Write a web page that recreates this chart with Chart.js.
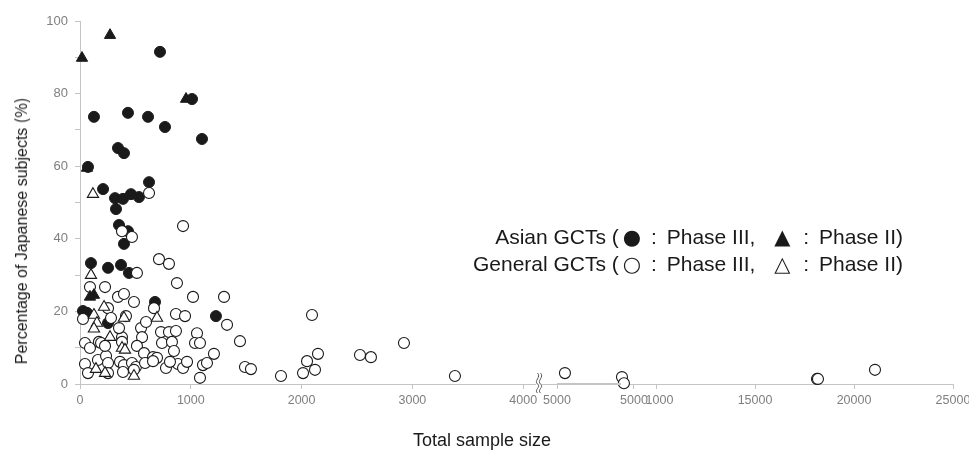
<!DOCTYPE html>
<html>
<head>
<meta charset="utf-8">
<script src="https://cdn.jsdelivr.net/npm/chart.js@4/dist/chart.umd.min.js"></script>
<style>
  body { margin: 0; background: #fff; }
  #wrap { position: relative; width: 969px; height: 457px; }
  .txt { position: absolute; font-family: "Liberation Sans", sans-serif; color: #1a1a1a; white-space: nowrap; }
  .sym { font-family: "DejaVu Sans", sans-serif; }
  .s3 { margin: 0 4px 0 4px; }
  .s2 { margin: 0 7px 0 13px; }
  .col { margin-right: 4px; }
  #ytitle { left: 20px; top: 231px; font-size: 16px; transform: translate(-50%, -50%) rotate(-90deg); }
  #ytitle .cjk { font-family: "Noto Sans CJK JP", sans-serif; }
  #xtitle { left: 482px; top: 440px; font-size: 18px; transform: translate(-50%, -50%); }
  .leg { right: 66px; font-size: 21px; line-height: 24px; }
  #leg1 { top: 225px; }
  #leg2 { top: 252px; }
</style>
</head>
<body>
<div id="wrap">
  <canvas id="chart" width="969" height="457"></canvas>
  <div class="txt" id="ytitle">Percentage of Japanese subjects <span class="cjk">(%)</span></div>
  <div class="txt" id="xtitle">Total sample size</div>
  <div class="txt leg" id="leg1">Asian GCTs (<span class="sym s3">●</span> <span class="col">:</span> Phase III, <span class="sym s2">▲</span> <span class="col">:</span> Phase II)</div>
  <div class="txt leg" id="leg2">General GCTs (<span class="sym s3">○</span> <span class="col">:</span> Phase III, <span class="sym s2">△</span> <span class="col">:</span> Phase II)</div>
</div>
<script>
// [total sample size, % Japanese subjects]
const asianPhase3 = [
  [72, 59.8], [126, 73.6], [433, 74.7], [614, 73.6], [722, 91.5], [767, 70.8],
  [1011, 78.5], [1101, 67.5], [343, 65.0], [397, 63.6], [208, 53.7], [623, 55.6],
  [316, 51.2], [388, 51.0], [460, 52.3], [532, 51.5], [325, 48.2], [352, 43.8],
  [433, 42.1], [397, 38.6], [99, 33.3], [253, 32.0], [370, 32.8], [442, 30.6],
  [677, 22.6], [27, 20.1], [63, 19.6], [253, 16.8], [1227, 18.7]
];
const asianPhase2 = [
  [18, 89.8], [271, 96.1], [957, 78.5], [63, 59.5], [90, 24.0], [126, 24.5]
];
const generalPhase3 = [
  [623, 52.6], [379, 42.1], [469, 40.5], [930, 43.5], [514, 30.6], [713, 34.4],
  [803, 33.1], [875, 27.8], [90, 26.7], [226, 26.7], [343, 24.0], [397, 24.8],
  [487, 22.6], [668, 20.9], [1020, 24.0], [1300, 24.0], [27, 17.9], [253, 20.9],
  [280, 18.2], [415, 18.7], [866, 19.3], [948, 18.7], [2094, 19.0], [1327, 16.3],
  [1444, 11.8], [45, 11.3], [90, 9.9], [171, 11.6], [190, 11.3], [379, 12.9],
  [379, 11.6], [551, 15.4], [560, 12.9], [514, 10.5], [731, 14.3], [740, 11.3],
  [803, 14.3], [830, 11.6], [848, 9.1], [1056, 14.0], [1038, 11.3], [1083, 11.3],
  [578, 8.5], [659, 7.4], [695, 7.2], [45, 5.5], [72, 3.0], [162, 6.6],
  [235, 7.7], [253, 5.8], [253, 3.0], [361, 6.1], [397, 5.2], [469, 5.8],
  [505, 4.7], [487, 3.9], [587, 5.8], [659, 6.3], [776, 4.4], [884, 5.5],
  [930, 4.4], [966, 6.1], [1083, 1.7], [1110, 5.2], [1146, 5.8], [1209, 8.3],
  [1489, 4.7], [1543, 4.1], [1814, 2.2], [2013, 3.0], [2049, 6.3], [2121, 3.9],
  [2148, 8.3], [2527, 8.0], [2626, 7.4], [2924, 11.3], [3384, 2.2],
  [352, 15.4], [596, 17.1], [866, 14.6], [226, 10.5], [812, 6.1], [388, 3.3],
  [5400, 3.0], [8280, 1.9], [8380, 0.2], [18130, 1.4], [18180, 1.4], [21060, 3.9]
];
const generalPhase2 = [
  [117, 52.3], [99, 30.0], [217, 21.2], [126, 19.0], [153, 16.8], [126, 15.2],
  [397, 18.2], [695, 18.2], [271, 12.9], [379, 9.9], [406, 9.4], [144, 4.1],
  [226, 3.0], [487, 2.2]
];

// broken x axis: 0-4000 on the left, 5000-25000 compressed on the right
const BREAK_AT = 4143;
const RIGHT_OFFSET = 3412;
const RIGHT_SCALE = 0.1787;
const toAxis = n => n <= BREAK_AT ? n : RIGHT_OFFSET + n * RIGHT_SCALE;

const leftTicks = [0, 1000, 2000, 3000, 4000, 5000];
const rightTicks = [5000, 10000, 15000, 20000, 25000];
const xTicks = leftTicks.concat(rightTicks.map(toAxis)).sort((a, b) => a - b);
const xTickLabels = ['0', '1000', '2000', '3000', '4000', '5000', '5000', '\u20071000', '15000', '20000', '25000'];

const pts = arr => arr.map(p => ({ x: toAxis(p[0]), y: p[1] }));
const INK = '#1a1a1a';
const GREY = '#c4c4c4';

const axisBreak = {
  id: 'axisBreak',
  afterDraw(chart) {
    const ctx = chart.ctx;
    const x = chart.scales.x.getPixelForValue(BREAK_AT);
    const y = chart.scales.y.getPixelForValue(0);
    ctx.save();
    // leftover axis stub from the pasted right-hand panel
    ctx.strokeStyle = GREY;
    ctx.lineWidth = 2;
    ctx.beginPath();
    ctx.moveTo(chart.scales.x.getPixelForValue(toAxis(5000)), y);
    ctx.lineTo(chart.scales.x.getPixelForValue(5000) - 13, y);
    ctx.stroke();
    ctx.fillStyle = '#fff';
    ctx.fillRect(x - 3, y - 3, 6, 6);
    ctx.strokeStyle = '#555';
    ctx.lineWidth = 1;
    [-1.5, 1.5].forEach(dx => {
      ctx.beginPath();
      ctx.moveTo(x + dx, y - 11);
      ctx.bezierCurveTo(x + dx + 4, y - 7, x + dx - 4, y - 3, x + dx, y);
      ctx.bezierCurveTo(x + dx + 4, y + 3, x + dx - 4, y + 6, x + dx, y + 9);
      ctx.stroke();
    });
    ctx.restore();
  }
};

new Chart(document.getElementById('chart'), {
  type: 'scatter',
  data: {
    datasets: [
      { label: 'Asian Phase III', data: pts(asianPhase3), pointStyle: 'circle', pointRadius: 5.5,
        backgroundColor: INK, borderColor: INK, borderWidth: 1, order: 4, clip: false },
      { label: 'General Phase III', data: pts(generalPhase3), pointStyle: 'circle', pointRadius: 5.5,
        backgroundColor: '#fff', borderColor: INK, borderWidth: 1.1, order: 3, clip: false },
      { label: 'General Phase II', data: pts(generalPhase2), pointStyle: 'triangle', pointRadius: 6.5,
        backgroundColor: '#fff', borderColor: INK, borderWidth: 1.1, order: 2, clip: false },
      { label: 'Asian Phase II', data: pts(asianPhase2), pointStyle: 'triangle', pointRadius: 6.5,
        backgroundColor: INK, borderColor: INK, borderWidth: 1, order: 1, clip: false }
    ]
  },
  options: {
    responsive: false,
    animation: false,
    events: [],
    layout: { padding: { top: 21, right: 16, left: 0, bottom: 0 } },
    plugins: { legend: { display: false }, tooltip: { enabled: false } },
    scales: {
      x: {
        type: 'linear', min: 0, max: toAxis(25000),
        afterFit: s => { s.height = 73; s.paddingLeft = 0; s.paddingRight = 0; },
        afterBuildTicks: s => { s.ticks = xTicks.map(v => ({ value: v })); },
        ticks: {
          autoSkip: false, maxRotation: 0, padding: 4, color: '#7f7f7f',
          font: { family: 'Liberation Sans', size: 12.5 },
          callback: (v, i) => xTickLabels[i]
        },
        grid: { drawOnChartArea: false, tickLength: 5, color: GREY },
        border: { color: GREY }
      },
      y: {
        min: 0, max: 100,
        afterFit: s => { s.width = 80; },
        ticks: {
          stepSize: 10, padding: 7, color: '#7f7f7f',
          font: { family: 'Liberation Sans', size: 13 },
          callback: v => v % 20 === 0 ? v : ''
        },
        grid: { drawOnChartArea: false, tickLength: 5, color: GREY },
        border: { color: GREY }
      }
    }
  },
  plugins: [axisBreak]
});
</script>
</body>
</html>
